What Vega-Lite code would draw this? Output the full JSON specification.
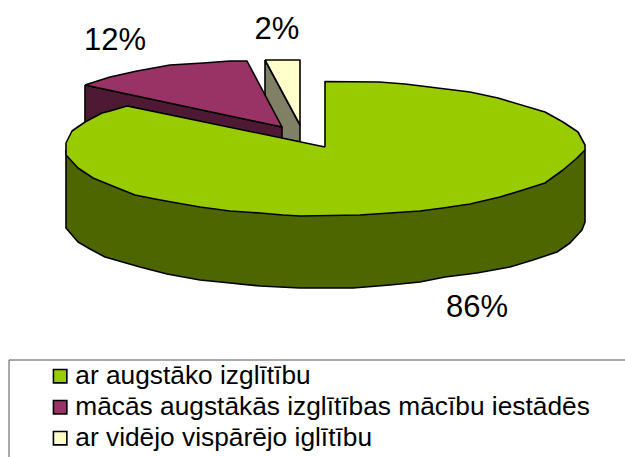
{"$schema":"https://vega.github.io/schema/vega-lite/v6.json","width":625,"height":457,"padding":0,"autosize":{"type":"none"},"background":"white","view":{"stroke":null},
"config":{"font":"Liberation Sans"},
"datasets":{
"sides":[
{"part":"yellow side","seq":1,"px":265,"py":60},{"part":"yellow side","seq":2,"px":300,"py":125},{"part":"yellow side","seq":3,"px":300,"py":142},{"part":"yellow side","seq":4,"px":265,"py":135},{"part":"yellow side","seq":5,"px":265,"py":60},
{"part":"purple side","seq":1,"px":85,"py":85},{"part":"purple side","seq":2,"px":282,"py":127},{"part":"purple side","seq":3,"px":282,"py":139},{"part":"purple side","seq":4,"px":127,"py":106},{"part":"purple side","seq":5,"px":85,"py":124},{"part":"purple side","seq":6,"px":85,"py":85},
{"part":"green side","seq":1,"px":66,"py":150},{"part":"green side","seq":2,"px":66,"py":228},{"part":"green side","seq":3,"px":78,"py":242},{"part":"green side","seq":4,"px":90,"py":249},{"part":"green side","seq":5,"px":105,"py":257},{"part":"green side","seq":6,"px":140,"py":267},{"part":"green side","seq":7,"px":167,"py":274},{"part":"green side","seq":8,"px":200,"py":280},{"part":"green side","seq":9,"px":230,"py":283},{"part":"green side","seq":10,"px":260,"py":286},{"part":"green side","seq":11,"px":300,"py":288},{"part":"green side","seq":12,"px":353,"py":288},{"part":"green side","seq":13,"px":390,"py":285},{"part":"green side","seq":14,"px":420,"py":282},{"part":"green side","seq":15,"px":445,"py":277},{"part":"green side","seq":16,"px":477,"py":273},{"part":"green side","seq":17,"px":510,"py":267},{"part":"green side","seq":18,"px":533,"py":260},{"part":"green side","seq":19,"px":557,"py":252},{"part":"green side","seq":20,"px":570,"py":243},{"part":"green side","seq":21,"px":582,"py":230},{"part":"green side","seq":22,"px":585,"py":222},{"part":"green side","seq":23,"px":585,"py":150},{"part":"green side","seq":24,"px":325,"py":180},{"part":"green side","seq":25,"px":66,"py":150}
],
"tops":[
{"slice":"ar vidējo vispārējo iglītību","seq":1,"px":265,"py":60},{"slice":"ar vidējo vispārējo iglītību","seq":2,"px":300,"py":60},{"slice":"ar vidējo vispārējo iglītību","seq":3,"px":300,"py":125},{"slice":"ar vidējo vispārējo iglītību","seq":4,"px":265,"py":60},
{"slice":"mācās augstākās izglītības mācību iestādēs","seq":1,"px":85,"py":85},{"slice":"mācās augstākās izglītības mācību iestādēs","seq":2,"px":110,"py":77},{"slice":"mācās augstākās izglītības mācību iestādēs","seq":3,"px":137,"py":71},{"slice":"mācās augstākās izglītības mācību iestādēs","seq":4,"px":170,"py":65},{"slice":"mācās augstākās izglītības mācību iestādēs","seq":5,"px":203,"py":63},{"slice":"mācās augstākās izglītības mācību iestādēs","seq":6,"px":230,"py":61},{"slice":"mācās augstākās izglītības mācību iestādēs","seq":7,"px":247,"py":61},{"slice":"mācās augstākās izglītības mācību iestādēs","seq":8,"px":282,"py":127},{"slice":"mācās augstākās izglītības mācību iestādēs","seq":9,"px":85,"py":85},
{"slice":"ar augstāko izglītību","seq":1,"px":325,"py":147},{"slice":"ar augstāko izglītību","seq":2,"px":325,"py":81.5},{"slice":"ar augstāko izglītību","seq":3,"px":379,"py":82},{"slice":"ar augstāko izglītību","seq":4,"px":405,"py":84},{"slice":"ar augstāko izglītību","seq":5,"px":470,"py":92},{"slice":"ar augstāko izglītību","seq":6,"px":498,"py":98},{"slice":"ar augstāko izglītību","seq":7,"px":545,"py":112},{"slice":"ar augstāko izglītību","seq":8,"px":563,"py":122},{"slice":"ar augstāko izglītību","seq":9,"px":578,"py":132},{"slice":"ar augstāko izglītību","seq":10,"px":585,"py":145},{"slice":"ar augstāko izglītību","seq":11,"px":585,"py":150},{"slice":"ar augstāko izglītību","seq":12,"px":577,"py":158},{"slice":"ar augstāko izglītību","seq":13,"px":563,"py":170},{"slice":"ar augstāko izglītību","seq":14,"px":545,"py":183},{"slice":"ar augstāko izglītību","seq":15,"px":523,"py":190},{"slice":"ar augstāko izglītību","seq":16,"px":500,"py":197},{"slice":"ar augstāko izglītību","seq":17,"px":470,"py":204},{"slice":"ar augstāko izglītību","seq":18,"px":443,"py":208},{"slice":"ar augstāko izglītību","seq":19,"px":420,"py":211},{"slice":"ar augstāko izglītību","seq":20,"px":390,"py":213},{"slice":"ar augstāko izglītību","seq":21,"px":360,"py":215},{"slice":"ar augstāko izglītību","seq":22,"px":300,"py":216},{"slice":"ar augstāko izglītību","seq":23,"px":283,"py":215},{"slice":"ar augstāko izglītību","seq":24,"px":260,"py":213},{"slice":"ar augstāko izglītību","seq":25,"px":230,"py":211},{"slice":"ar augstāko izglītību","seq":26,"px":200,"py":207},{"slice":"ar augstāko izglītību","seq":27,"px":177,"py":203},{"slice":"ar augstāko izglītību","seq":28,"px":155,"py":199},{"slice":"ar augstāko izglītību","seq":29,"px":135,"py":195},{"slice":"ar augstāko izglītību","seq":30,"px":115,"py":187},{"slice":"ar augstāko izglītību","seq":31,"px":93,"py":178},{"slice":"ar augstāko izglītību","seq":32,"px":78,"py":168},{"slice":"ar augstāko izglītību","seq":33,"px":66,"py":155},{"slice":"ar augstāko izglītību","seq":34,"px":66,"py":143},{"slice":"ar augstāko izglītību","seq":35,"px":72,"py":131},{"slice":"ar augstāko izglītību","seq":36,"px":85,"py":122},{"slice":"ar augstāko izglītību","seq":37,"px":102,"py":113},{"slice":"ar augstāko izglītību","seq":38,"px":110,"py":111},{"slice":"ar augstāko izglītību","seq":39,"px":127,"py":106},{"slice":"ar augstāko izglītību","seq":40,"px":325,"py":147}
],
"labels":[{"label":"12%","px":115,"py":41},{"label":"2%","px":277,"py":30},{"label":"86%","px":477,"py":308}],
"frame":[{"px":9,"px2":660,"py":360,"py2":480}]
},
"resolve":{"scale":{"fill":"independent"}},
"layer":[
{"data":{"name":"frame"},"mark":{"type":"rect","fill":"white","stroke":"#555555","strokeWidth":1},"encoding":{"x":{"field":"px","type":"quantitative","scale":{"domain":[0,625],"nice":false,"zero":false},"axis":null},"x2":{"field":"px2"},"y":{"field":"py","type":"quantitative","scale":{"domain":[457,0],"nice":false,"zero":false},"axis":null},"y2":{"field":"py2"}}},
{"data":{"name":"sides"},"mark":{"type":"line","stroke":"black","strokeWidth":1.6,"strokeJoin":"round"},"encoding":{"x":{"field":"px","type":"quantitative","scale":{"domain":[0,625],"nice":false,"zero":false},"axis":null},"y":{"field":"py","type":"quantitative","scale":{"domain":[457,0],"nice":false,"zero":false},"axis":null},"order":{"field":"seq"},"detail":{"field":"part"},"fill":{"field":"part","type":"nominal","legend":null,"scale":{"domain":["yellow side","purple side","green side"],"range":["#808066","#4d1933","#4d6600"]}}}},
{"data":{"name":"tops"},"mark":{"type":"line","stroke":"black","strokeWidth":1.6,"strokeJoin":"round"},"encoding":{"x":{"field":"px","type":"quantitative","scale":{"domain":[0,625],"nice":false,"zero":false},"axis":null},"y":{"field":"py","type":"quantitative","scale":{"domain":[457,0],"nice":false,"zero":false},"axis":null},"order":{"field":"seq"},"detail":{"field":"slice"},"fill":{"field":"slice","type":"nominal","scale":{"domain":["ar augstāko izglītību","mācās augstākās izglītības mācību iestādēs","ar vidējo vispārējo iglītību"],"range":["#99cc00","#993366","#ffffcc"]},"legend":{"title":null,"orient":"none","legendX":47,"legendY":363,"symbolType":"square","symbolSize":180,"symbolStrokeColor":"black","symbolStrokeWidth":1.6,"labelFont":"Liberation Sans","labelFontSize":26.3,"labelColor":"black","labelOffset":2,"labelLimit":600,"rowPadding":4,"padding":0}}}},
{"data":{"name":"labels"},"mark":{"type":"text","font":"Liberation Sans","fontSize":31,"color":"black","align":"center","baseline":"middle"},"encoding":{"x":{"field":"px","type":"quantitative","scale":{"domain":[0,625],"nice":false,"zero":false},"axis":null},"y":{"field":"py","type":"quantitative","scale":{"domain":[457,0],"nice":false,"zero":false},"axis":null},"text":{"field":"label"}}}
]}
